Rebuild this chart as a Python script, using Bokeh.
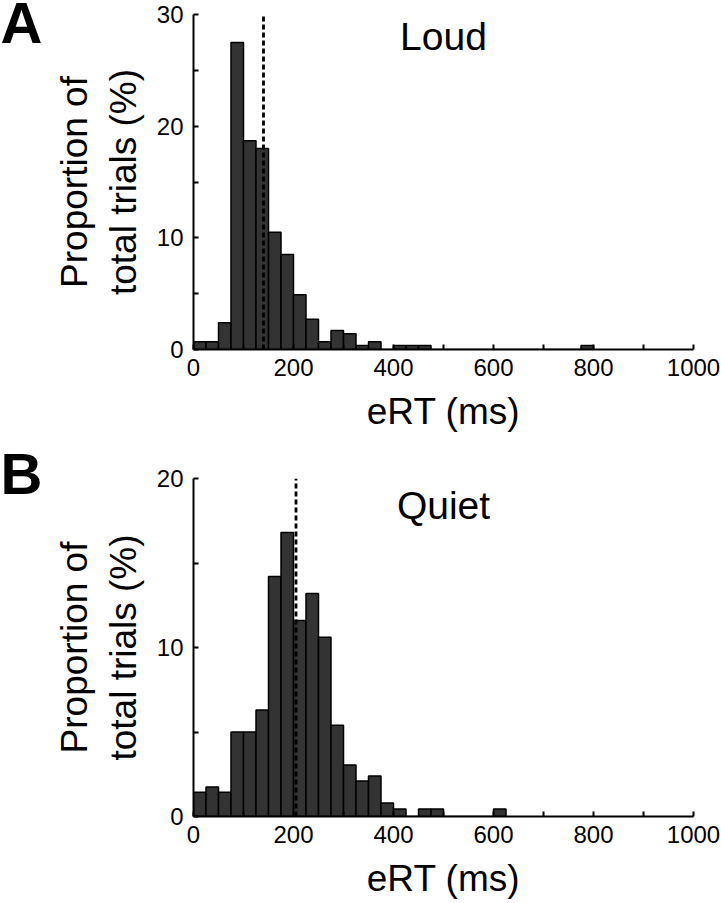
from bokeh.plotting import figure
from bokeh.models import FixedTicker, Label, Range1d, ColumnDataSource
from bokeh.layouts import column, row
from bokeh.embed import file_html
from bokeh.resources import INLINE

# ---- data (percent of total trials per 25 ms bin, starting at 0 ms) ----
bin_width = 25
loud_pct = [0.7, 0.7, 2.4, 27.5, 18.7, 18.0, 10.5, 8.5, 4.9, 2.7,
            0.7, 1.7, 1.4, 0.35, 0.7, 0.0, 0.35, 0.35, 0.35, 0.0,
            0.0, 0.0, 0.0, 0.0, 0.0, 0.0, 0.0, 0.0, 0.0, 0.0,
            0.0, 0.35]
quiet_pct = [1.43, 1.74, 1.43, 5.0, 5.0, 6.3, 14.2, 16.8, 11.6, 13.2,
             10.6, 5.4, 3.05, 2.1, 2.4, 0.8, 0.45, 0.0, 0.45, 0.45,
             0.0, 0.0, 0.0, 0.0, 0.45]
loud_mean = 140
quiet_mean = 205
x_ticks = [0, 200, 400, 600, 800, 1000]
x_minor = [100, 300, 500, 700, 900]
loud_y_ticks = [0, 10, 20, 30]
loud_y_minor = [5, 15, 25]
quiet_y_ticks = [0, 10, 20]
quiet_y_minor = [5, 15]

FONT = "Liberation Sans"
LETTER_W = 50


def letter_fig(letter, height, center_from_top):
    f = figure(width=LETTER_W, height=height, output_backend="svg",
               toolbar_location=None, title=None, frame_align=False,
               x_range=Range1d(0, LETTER_W), y_range=Range1d(0, height),
               x_axis_type=None, y_axis_type=None, min_border=0,
               min_border_left=0, min_border_right=0, min_border_top=0,
               min_border_bottom=0)
    f.outline_line_color = None
    f.xgrid.visible = False
    f.ygrid.visible = False
    f.add_layout(Label(x=0, y=height - center_from_top, text=letter,
                       text_align="left", text_baseline="middle",
                       text_font=FONT, text_font_style="bold",
                       text_font_size="58px", text_color="black"))
    return f


def panel(values, mean, ymax, yticks, yminor, title, title_y, height,
          border_top, border_bottom):
    p = figure(width=721 - LETTER_W, height=height, output_backend="svg",
               toolbar_location=None, title=None, frame_align=False,
               x_range=Range1d(0, 1000), y_range=Range1d(0, ymax),
               min_border_left=188 - LETTER_W, min_border_right=28,
               min_border_top=border_top, min_border_bottom=border_bottom)
    p.outline_line_color = None
    p.xgrid.visible = False
    p.ygrid.visible = False
    p.background_fill_color = "white"
    p.border_fill_color = "white"

    lefts = [i * bin_width for i in range(len(values))]
    rights = [l + bin_width for l in lefts]
    src = ColumnDataSource(dict(left=lefts, right=rights, top=values,
                                bottom=[0] * len(values)))
    p.quad(left="left", right="right", top="top", bottom="bottom",
           source=src, fill_color="#333333", line_color="black",
           line_width=1.5)
    p.segment(x0=[mean], y0=[0], x1=[mean], y1=[ymax], line_color="black",
              line_width=2.8, line_dash="5 3")

    for ax in (p.xaxis[0], p.yaxis[0]):
        ax.axis_line_width = 2
        ax.axis_line_color = "black"
        ax.major_tick_line_width = 2
        ax.minor_tick_line_width = 2
        ax.major_tick_in = 5
        ax.major_tick_out = 0
        ax.minor_tick_in = 5
        ax.minor_tick_out = 0
        ax.major_label_text_font = FONT
        ax.major_label_text_font_size = "24px"
        ax.major_label_text_color = "black"
        ax.axis_label_text_font = FONT
        ax.axis_label_text_font_size = "37px"
        ax.axis_label_text_font_style = "normal"
        ax.axis_label_text_color = "black"

    p.xaxis.ticker = FixedTicker(ticks=x_ticks, minor_ticks=x_minor)
    p.yaxis.ticker = FixedTicker(ticks=yticks, minor_ticks=yminor)
    p.xaxis.axis_label = "eRT (ms)"
    p.yaxis.axis_label = "Proportion of\ntotal trials (%)"
    p.xaxis.major_label_standoff = 9
    p.yaxis.major_label_standoff = 10
    p.xaxis.axis_label_standoff = 12
    p.yaxis.axis_label_standoff = 10

    p.add_layout(Label(x=500, y=title_y, text=title, text_align="center",
                       text_baseline="middle", text_font=FONT,
                       text_font_size="39px", text_color="black"))
    return p


H_A, H_B = 440, 463
pa = panel(loud_pct, loud_mean, 30, loud_y_ticks, loud_y_minor,
           "Loud", 28.07, H_A, 14, 91)
pb = panel(quiet_pct, quiet_mean, 20, quiet_y_ticks, quiet_y_minor,
           "Quiet", 18.4, H_B, 38, 87)

layout = column(row(letter_fig("A", H_A, 22), pa, spacing=0),
                row(letter_fig("B", H_B, 33), pb, spacing=0),
                spacing=0)
open("out.html", "w").write(file_html(layout, INLINE))
